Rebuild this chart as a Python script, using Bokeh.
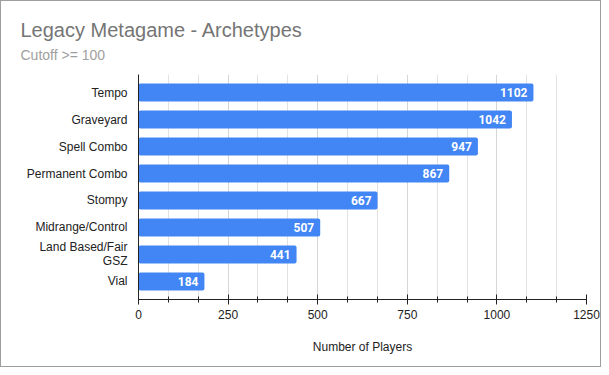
from bokeh.plotting import figure
from bokeh.models import ColumnDataSource, Range1d, FixedTicker, Title
from bokeh.embed import file_html
from bokeh.resources import INLINE

categories = ["Tempo", "Graveyard", "Spell Combo", "Permanent Combo", "Stompy",
              "Midrange/Control", "Land Based/Fair\nGSZ", "Vial"]
players = [1102, 1042, 947, 867, 667, 507, 441, 184]
x_ticks = [0, 250, 500, 750, 1000, 1250]

FONT = "Liberation Sans"
BARFONT = "Roboto"
idx = list(range(len(categories)))
src = ColumnDataSource(dict(y=idx, v=players, lab=[str(v) for v in players]))

W, H = 601, 367
LEFT, TOP, FW, FH = 137, 73, 448, 225
p = figure(width=W, height=H, output_backend="svg", toolbar_location=None,
           x_range=Range1d(0, 1250), y_range=Range1d(len(categories) - 1 + 0.667, -0.667),
           min_border_left=LEFT, min_border_right=W - LEFT - FW,
           min_border_top=TOP, min_border_bottom=H - TOP - FH,
           title=None)
p.styles = {"border": "1px solid #9e9e9e"}
p.outline_line_color = None
p.background_fill_color = "white"
p.border_fill_color = "white"

p.hbar(y="y", right="v", left=0, height=0.667, source=src, fill_color="#4285F4",
       line_color=None, border_radius=2)
p.text(x="v", y="y", text="lab", source=src, x_offset=-6, text_align="right",
       text_baseline="middle", text_color="white", text_font_size="12px",
       text_font_style="bold", text_font={"value": BARFONT})

# x axis
xa = p.xaxis[0]
xa.ticker = FixedTicker(ticks=x_ticks, minor_ticks=[v + d for v in x_ticks[:-1] for d in (250/3, 500/3)])
xa.axis_line_color = "#222222"
xa.major_tick_line_color = "#222222"
xa.minor_tick_line_color = "#222222"
xa.major_tick_in = 5
xa.major_tick_out = 5
xa.minor_tick_in = 3
xa.minor_tick_out = 3
xa.major_label_text_font = FONT
xa.major_label_text_font_size = "12px"
xa.major_label_text_color = "#222222"
xa.major_label_standoff = 5
xa.axis_label = "Number of Players"
xa.axis_label_text_font = FONT
xa.axis_label_text_font_size = "12px"
xa.axis_label_text_font_style = "normal"
xa.axis_label_text_color = "#222222"
xa.axis_label_standoff = 18

# y axis
ya = p.yaxis[0]
ya.ticker = FixedTicker(ticks=idx)
ya.major_label_overrides = {i: c for i, c in zip(idx, categories)}
ya.axis_line_color = "#222222"
ya.major_tick_line_color = None
ya.minor_tick_line_color = None
ya.major_label_text_font = FONT
ya.major_label_text_font_size = "12px"
ya.major_label_text_color = "#222222"
ya.major_label_text_line_height = 1.0
ya.major_label_standoff = 5

p.xgrid[0].grid_line_color = "#d6d6d6"
p.xgrid[0].minor_grid_line_color = "#e2e2e2"
p.ygrid[0].grid_line_color = None

sub = Title(text="Cutoff >= 100", text_font=FONT, text_font_size="14px",
            text_color="#a0a0a0", text_font_style="normal", align="left",
            offset=19 - LEFT, standoff=24)
main = Title(text="Legacy Metagame - Archetypes", text_font=FONT, text_font_size="20px",
             text_color="#757575", text_font_style="normal", align="left",
             offset=19 - LEFT, standoff=-16)
p.add_layout(sub, "above")
p.add_layout(main, "above")

open("out.html", "w").write(file_html(p, INLINE))
